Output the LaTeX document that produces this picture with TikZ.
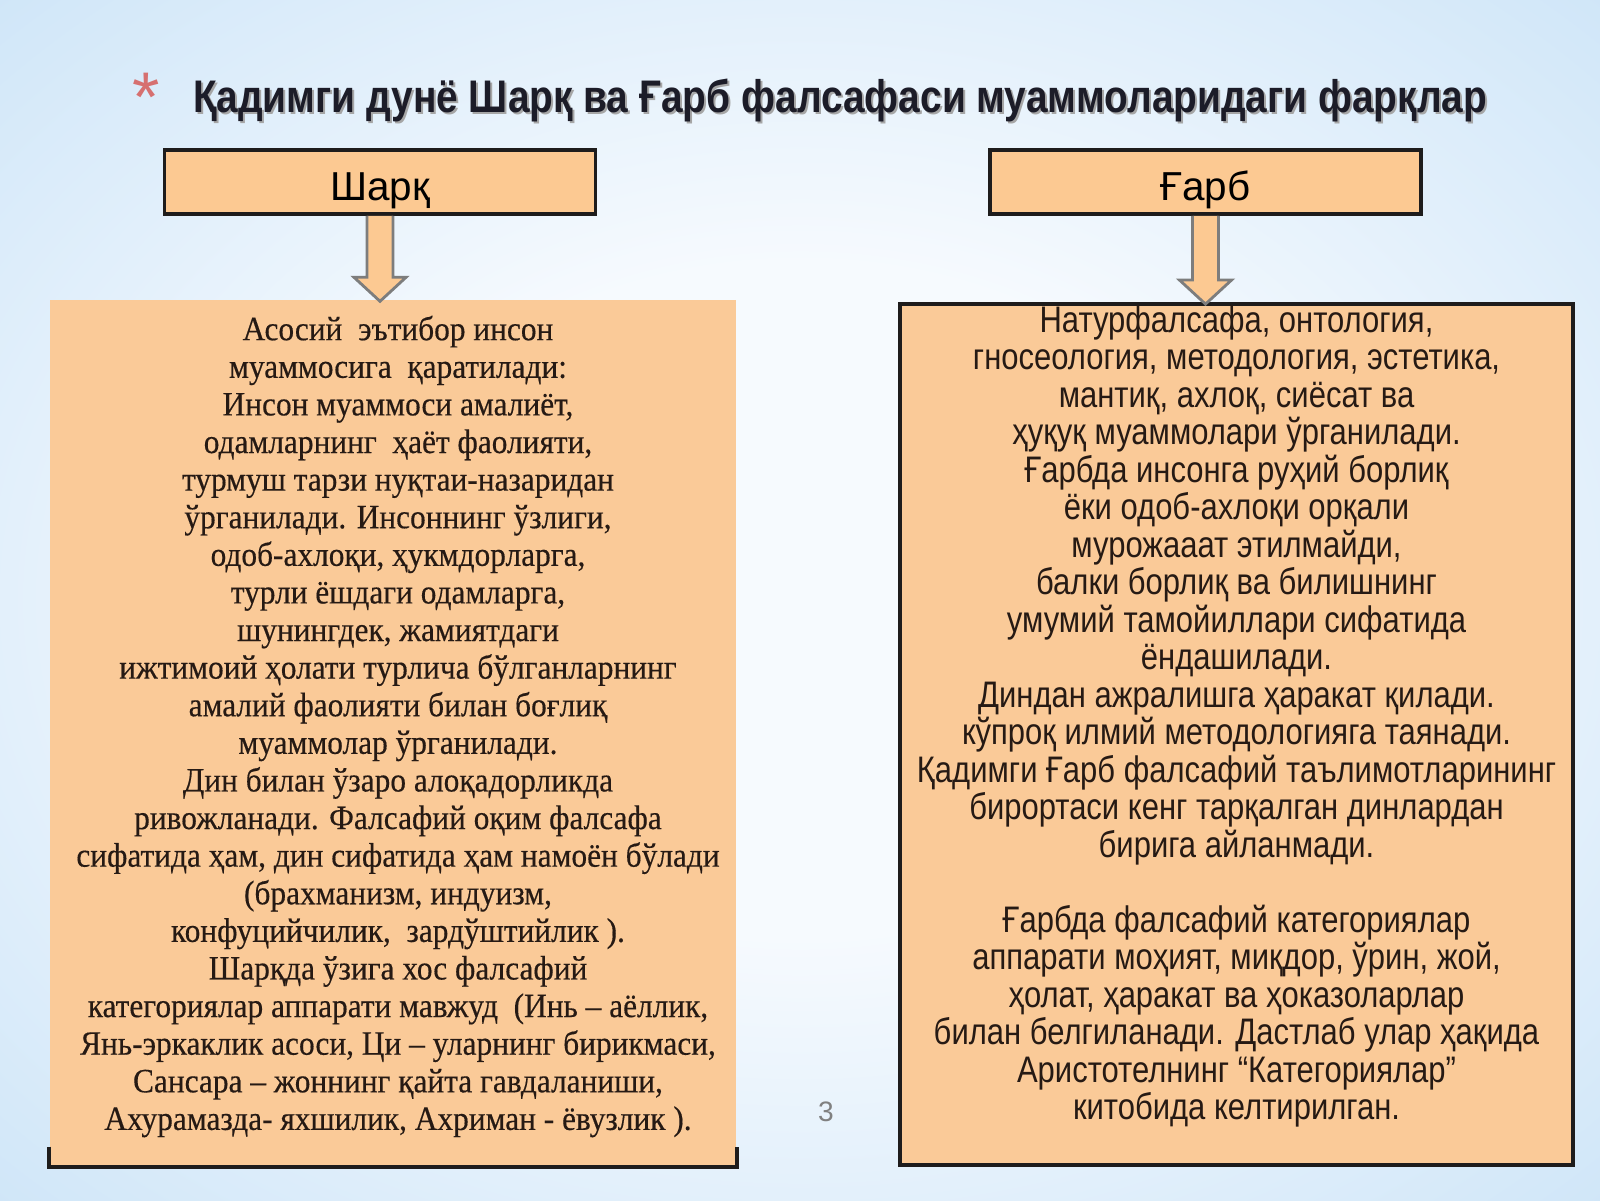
\documentclass[tikz,border=0pt]{standalone}
\usepackage{fontspec}
\setmainfont[FakeStretch=0.92,FakeBold=0.35]{Liberation Serif}
\newfontfamily\gharbfont[FakeStretch=0.84]{Liberation Sans}
\newfontfamily\titlefont[FakeStretch=0.85]{Liberation Sans}
\newfontfamily\headfont{Liberation Sans}
\usetikzlibrary{calc,positioning}

\definecolor{peach}{RGB}{250,202,152}
\definecolor{hdrpeach}{RGB}{252,201,146}
\definecolor{boxline}{RGB}{30,28,28}
\definecolor{arrline}{RGB}{125,125,125}
\definecolor{inktext}{RGB}{38,26,20}
\definecolor{titleink}{RGB}{28,28,40}
\definecolor{starred}{RGB}{214,112,112}
\definecolor{bgin}{RGB}{246,250,254}
\definecolor{bgmid}{RGB}{200,226,247}
\definecolor{bgout}{RGB}{130,192,238}

\pgfdeclareradialshading{slidebg}{\pgfpoint{0bp}{0bp}}{color(0bp)=(bgin); color(14bp)=(bgin); color(40bp)=(bgmid); color(70bp)=(bgout)}

\tikzset{
  hdr/.style={draw=boxline, line width=1.1pt, fill=hdrpeach, minimum width=4.31cm,
    minimum height=0.64cm, inner sep=0pt, text height=0.42cm, text depth=0.06cm,
    font=\headfont\fontsize{11.5}{12}\selectfont},
  boxrule/.style={draw=boxline, line width=1.1pt},
  blockarr/.style={draw=arrline, line width=0.8pt, fill=hdrpeach},
  sharqtxt/.style={align=center, text=inktext, font=\fontsize{9.7}{10.7}\selectfont},
  gharbtxt/.style={align=center, text=inktext, font=\gharbfont\fontsize{10.5}{10.67}\selectfont}
}

% block arrow from a header down to its box
\newcommand{\blockarrow}[2]{%
  \draw[blockarr] let \p1=(#1.south), \p2=(#2.north) in
    (\x1-0.13cm,\y1) -- (\x1-0.13cm,\y2+0.22cm) -- (\x1-0.26cm,\y2+0.22cm) -- (\x1,\y2-0.02cm)
    -- (\x1+0.26cm,\y2+0.22cm) -- (\x1+0.13cm,\y2+0.22cm) -- (\x1+0.13cm,\y1);}

\begin{document}
\begin{tikzpicture}
            \useasboundingbox (0,0) rectangle (16,-12);
            \shade[shading=slidebg] (0,0) rectangle (16,-12);

            % title
            \node[text=starred, font=\headfont\fontsize{20}{20}\selectfont] (star) at (1.46,-0.97) {*};
            \node[anchor=base, text=black!35, font=\titlefont\bfseries\fontsize{13}{14}\selectfont] (titleshadow) at (8.42,-1.145)
                {Қадимги дунё Шарқ ва Ғарб фалсафаси муаммоларидаги фарқлар};
            \node[anchor=base, text=titleink, font=\titlefont\bfseries\fontsize{13}{14}\selectfont] (title) at (8.40,-1.12)
                {Қадимги дунё Шарқ ва Ғарб фалсафаси муаммоларидаги фарқлар};

            % headers
            \node[hdr] (sharq) at (3.80,-1.82) {Шарқ};
            \node[hdr] (gharb) at (12.055,-1.82) {Ғарб};

            % boxes
            \node[fill=peach, minimum width=6.86cm, minimum height=8.66cm, inner sep=0pt] (sharqbox) at (3.93,-7.33) {};
            \draw[boxrule] ([yshift=0.2cm]sharqbox.south west) -- (sharqbox.south west)
                -- (sharqbox.south east) -- ([yshift=0.2cm]sharqbox.south east);
            \node[boxrule, fill=peach, minimum width=6.73cm, minimum height=8.61cm, inner sep=0pt] (gharbbox) at (12.365,-7.345) {};

            \blockarrow{sharq}{sharqbox}
            \blockarrow{gharb}{gharbbox}

            \node[sharqtxt] (sharqtext) at ([xshift=0.05cm,yshift=0.065cm]sharqbox.center) {%
                Асосий\ \ эътибор инсон\\
                муаммосига\ \ қаратилади:\\
                Инсон муаммоси амалиёт,\\
                одамларнинг\ \ ҳаёт фаолияти,\\
                турмуш тарзи нуқтаи-назаридан\\
                ўрганилади. Инсоннинг ўзлиги,\\
                одоб-ахлоқи, ҳукмдорларга,\\
                турли ёшдаги одамларга,\\
                шунингдек, жамиятдаги\\
                ижтимоий ҳолати турлича бўлганларнинг\\
                амалий фаолияти билан боғлиқ\\
                муаммолар ўрганилади.\\
                Дин билан ўзаро алоқадорликда\\
                ривожланади. Фалсафий оқим фалсафа\\
                сифатида ҳам, дин сифатида ҳам намоён бўлади\\
                (брахманизм, индуизм,\\
                конфуцийчилик,\ \ зардўштийлик ).\\
                Шарқда ўзига хос фалсафий\\
                категориялар аппарати мавжуд\ \ (Инь – аёллик,\\
                Янь-эркаклик асоси, Ци – уларнинг бирикмаси,\\
                Сансара – жоннинг қайта гавдаланиши,\\
                Ахурамазда- яхшилик, Ахриман - ёвузлик ).};

            \node[gharbtxt] (gharbtext) at ([yshift=0.18cm]gharbbox.center) {%
                Натурфалсафа, онтология,\\
                гносеология, методология, эстетика,\\
                мантиқ, ахлоқ, сиёсат ва\\
                ҳуқуқ муаммолари ўрганилади.\\
                Ғарбда инсонга руҳий борлиқ\\
                ёки одоб-ахлоқи орқали\\
                мурожааат этилмайди,\\
                балки борлиқ ва билишнинг\\
                умумий тамойиллари сифатида\\
                ёндашилади.\\
                Диндан ажралишга ҳаракат қилади.\\
                кўпроқ илмий методологияга таянади.\\
                Қадимги Ғарб фалсафий таълимотларининг\\
                бирортаси кенг тарқалган динлардан\\
                бирига айланмади.\\[10.67pt]
                Ғарбда фалсафий категориялар\\
                аппарати моҳият, миқдор, ўрин, жой,\\
                ҳолат, ҳаракат ва ҳоказоларлар\\
                билан белгиланади. Дастлаб улар ҳақида\\
                Аристотелнинг “Категориялар”\\
                китобида келтирилган.};

            % page number
            \node[text=black!50, font=\headfont\fontsize{8}{8}\selectfont] (pageno) at (8.26,-11.12) {3};
\end{tikzpicture}
\end{document}
